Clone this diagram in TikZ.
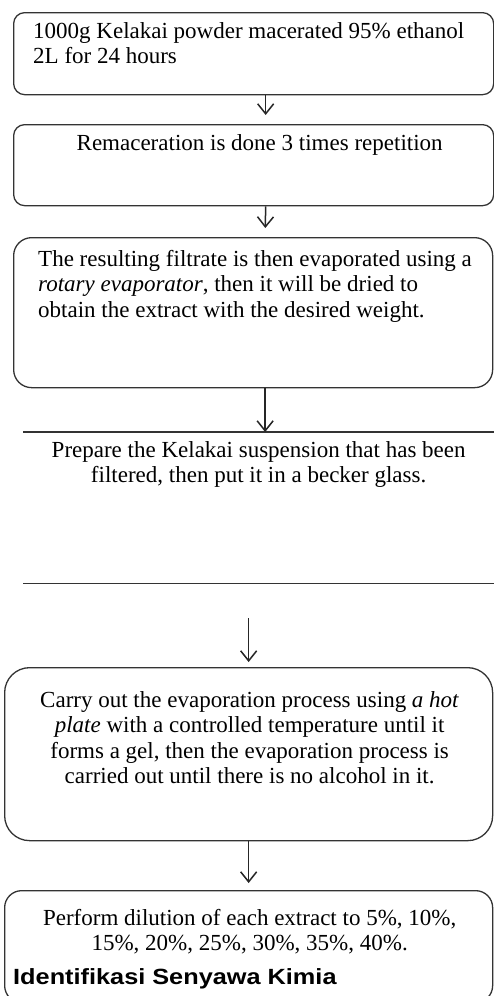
\documentclass[tikz,border=0pt]{standalone}
\usepackage{fontspec}
\setmainfont{Liberation Serif}
\newfontfamily\headfont[FakeStretch=1.15]{Liberation Sans}
\usetikzlibrary{arrows.meta,positioning}
\newcommand{\stepfont}{\fontsize{23}{25.5}\selectfont}

\begin{document}
\begin{tikzpicture}[x=1pt,y=-1pt,
  stepbox/.style={draw=black!80,line width=1.3pt,rounded corners=11pt,anchor=north west,inner sep=0pt},
  steptext/.style={font=\stepfont,inner sep=0pt,align=center,anchor=north},
  flow/.style={draw=black!85,line width=1.5pt,-{Straight Barb[length=10pt,width=16pt,line width=1.5pt]}}]
  \useasboundingbox (0,0) rectangle (493,996);
  % boxes
  \node[stepbox,minimum width=480pt,minimum height=82pt] (b1) at (13,12) {};
  \node[stepbox,minimum width=480pt,minimum height=81pt] (b2) at (13,124) {};
  \node[stepbox,rounded corners=18pt,minimum width=479pt,minimum height=150pt] (b3) at (13,237) {};
  \node[stepbox,draw=none,minimum width=470pt,minimum height=150pt] (b4) at (23,432) {};
  \node[stepbox,rounded corners=25pt,minimum width=488pt,minimum height=173pt] (b5) at (4,667) {};
  \node[stepbox,rounded corners=17pt,minimum width=488pt,minimum height=112pt] (b6) at (4,890) {};
  \draw[draw=black!80,line width=1.3pt] (b4.north west) -- (b4.north east)
    (b4.south west) -- (b4.south east);
  % texts
  \node[steptext,anchor=north west,align=left] (t1) at ([xshift=20pt,yshift=-10pt]b1.north west)
    {1000g Kelakai powder macerated 95\% ethanol\\2L for 24 hours};
  \node[steptext] (t2) at ([xshift=6pt,yshift=-10pt]b2.north)
    {Remaceration is done 3 times repetition};
  \node[steptext,anchor=north west,align=left] (t3) at ([xshift=25pt,yshift=-13pt]b3.north west)
    {The resulting filtrate is then evaporated using a\\\textit{rotary evaporator}, then it will be dried to\\obtain the extract with the desired weight.};
  \node[steptext] (t4) at ([yshift=-9pt]b4.north)
    {Prepare the Kelakai suspension that has been\\filtered, then put it in a becker glass.};
  \node[steptext] (t5) at ([xshift=1pt,yshift=-24pt]b5.north)
    {Carry out the evaporation process using \textit{a hot}\\\textit{plate} with a controlled temperature until it\\forms a gel, then the evaporation process is\\carried out until there is no alcohol in it.};
  \node[steptext] (t6) at ([xshift=1pt,yshift=-19pt]b6.north)
    {Perform dilution of each extract to 5\%, 10\%,\\15\%, 20\%, 25\%, 30\%, 35\%, 40\%.};
  \node[anchor=base west,inner sep=0pt,font=\headfont\bfseries\fontsize{22}{26}\selectfont] (head)
    at ([xshift=9pt,yshift=-94pt]b6.north west) {Identifikasi Senyawa Kimia};
  % arrows
  \coordinate (a4) at ([yshift=-35pt]b4.south -| b5.north);
  \draw[flow,shorten >=9pt] ([xshift=12pt]b1.south) -- ([xshift=12pt]b2.north);
  \draw[flow,shorten >=9pt] ([xshift=12pt]b2.south) -- ([xshift=12pt]b3.north);
  \draw[flow] ([xshift=12pt]b3.south) -- ([xshift=12pt]b3.south |- b4.north);
  \draw[flow,shorten >=5pt] (a4) -- (b5.north);
  \draw[flow,shorten >=7pt] (b5.south) -- (b6.north);
\end{tikzpicture}
\end{document}
